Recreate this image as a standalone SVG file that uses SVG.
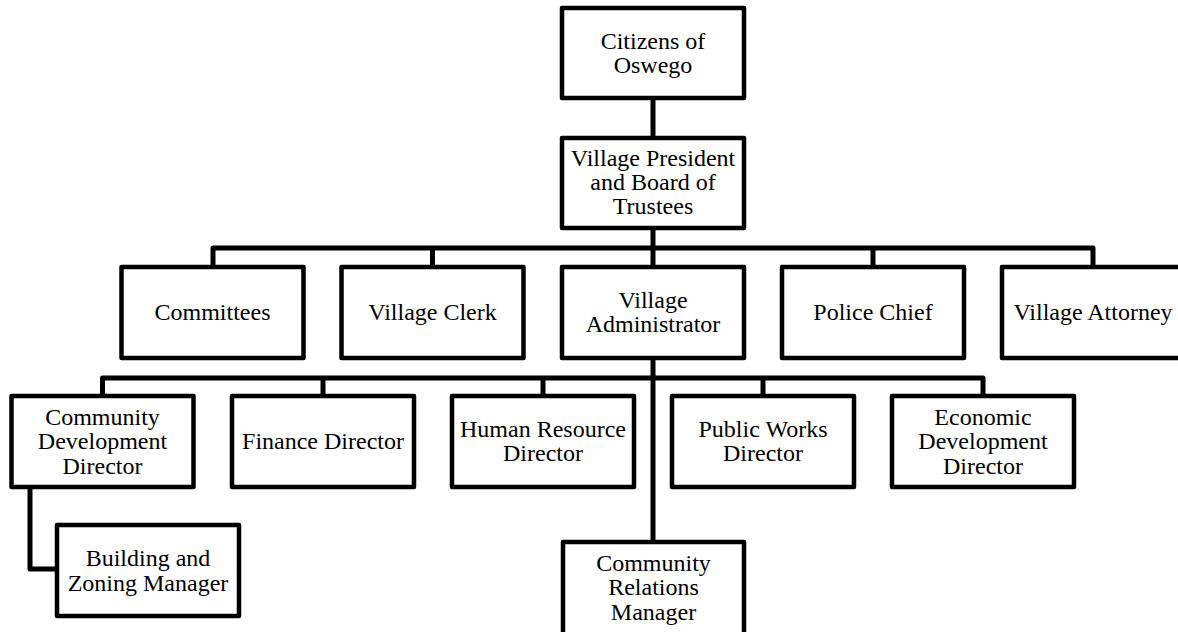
<svg xmlns="http://www.w3.org/2000/svg" width="1178" height="632" viewBox="0 0 1178 632">
<style>
.box{fill:#fff;stroke:#000;stroke-width:4.5;stroke-linejoin:round}
.con{fill:none;stroke:#000;stroke-width:5;stroke-linejoin:round}
text{font-family:"Liberation Serif","Times New Roman",serif;font-size:24px;fill:#000;text-anchor:middle}
</style>
<rect width="1178" height="632" fill="#fff"/>
<g id="connectors">
<path class="con" d="M653,98 V138"/>
<path class="con" d="M653,228 V248"/>
<path class="con" d="M213,267 V248 H1093 V267"/>
<path class="con" d="M432.5,248 V267"/>
<path class="con" d="M873,248 V267"/>
<path class="con" d="M653,248 V267"/>
<path class="con" d="M653,358 V542"/>
<path class="con" d="M102.5,396 V378 H983 V396"/>
<path class="con" d="M323,378 V396"/>
<path class="con" d="M543,378 V396"/>
<path class="con" d="M763,378 V396"/>
<path class="con" d="M30,487 V569 H57"/>
</g>
<g id="citizens"><rect class="box" x="562" y="8" width="182" height="90"/><text x="653" y="49">Citizens of</text><text x="653" y="73">Oswego</text></g>
<g id="president"><rect class="box" x="562" y="138" width="182" height="90"/><text x="653" y="166">Village President</text><text x="653" y="190">and Board of</text><text x="653" y="213.5">Trustees</text></g>
<g id="committees"><rect class="box" x="121.5" y="267" width="182" height="91"/><text x="212.5" y="320">Committees</text></g>
<g id="clerk"><rect class="box" x="341.5" y="267" width="182" height="91"/><text x="432.5" y="320">Village Clerk</text></g>
<g id="administrator"><rect class="box" x="562" y="267" width="182" height="91"/><text x="653" y="307.5">Village</text><text x="653" y="331.5">Administrator</text></g>
<g id="police"><rect class="box" x="782" y="267" width="182" height="91"/><text x="873" y="320">Police Chief</text></g>
<g id="attorney"><rect class="box" x="1002" y="267" width="182" height="91"/><text x="1093" y="320">Village Attorney</text></g>
<g id="cdd"><rect class="box" x="11.5" y="396" width="182" height="91"/><text x="102.5" y="424.5">Community</text><text x="102.5" y="449">Development</text><text x="102.5" y="473.5">Director</text></g>
<g id="finance"><rect class="box" x="232" y="396" width="182" height="91"/><text x="323" y="449">Finance Director</text></g>
<g id="hr"><rect class="box" x="452" y="396" width="182" height="91"/><text x="543" y="437">Human Resource</text><text x="543" y="461">Director</text></g>
<g id="publicworks"><rect class="box" x="672" y="396" width="182" height="91"/><text x="763" y="437">Public Works</text><text x="763" y="461">Director</text></g>
<g id="edd"><rect class="box" x="892" y="396" width="182" height="91"/><text x="983" y="424.5">Economic</text><text x="983" y="449">Development</text><text x="983" y="473.5">Director</text></g>
<g id="building"><rect class="box" x="57" y="525" width="182" height="91"/><text x="148" y="565.5">Building and</text><text x="148" y="590.5">Zoning Manager</text></g>
<g id="crm"><rect class="box" x="563" y="542" width="181" height="96"/><text x="653.5" y="570.5">Community</text><text x="653.5" y="595">Relations</text><text x="653.5" y="619.5">Manager</text></g>
</svg>
